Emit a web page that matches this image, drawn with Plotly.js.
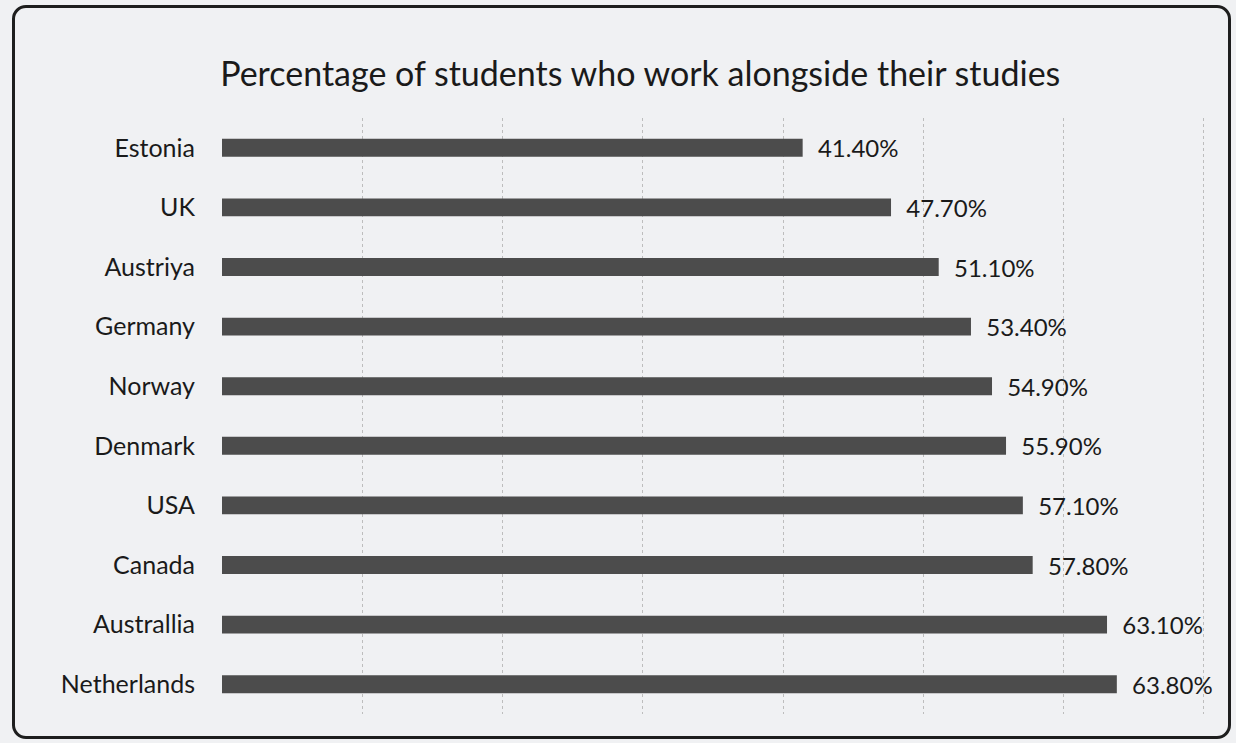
<!DOCTYPE html>
<html>
<head>
<meta charset="utf-8">
<script src="https://cdn.plot.ly/plotly-3.0.1.min.js"></script>
<style>
  html, body { margin: 0; padding: 0; background: #f0f1f3; }
  #chart { width: 1236px; height: 743px; }
  #frame { position: absolute; left: 12px; top: 5px; width: 1213px; height: 728px;
           border: 3px solid #1e1e1e; border-radius: 14px; pointer-events: none; }
</style>
</head>
<body>
<div id="chart"></div>
<div id="frame"></div>
<script>
const countries = ["Estonia", "UK", "Austriya", "Germany", "Norway", "Denmark", "USA", "Canada", "Australlia", "Netherlands"];
const percentages = [41.4, 47.7, 51.1, 53.4, 54.9, 55.9, 57.1, 57.8, 63.1, 63.8];

const FONT = "Lato, 'Open Sans', sans-serif";

const trace = {
  type: "bar",
  orientation: "h",
  y: countries,
  x: percentages,
  marker: { color: "#4c4c4c" },
  text: percentages.map(v => "\u00a0\u00a0" + v.toFixed(2) + "%"),
  textposition: "outside",
  constraintext: "none",
  cliponaxis: false,
  textfont: { family: FONT, size: 24, color: "#1a1a1a" },
  hoverinfo: "none"
};

const layout = {
  width: 1236, height: 743,
  paper_bgcolor: "#f0f1f3",
  plot_bgcolor: "#f0f1f3",
  margin: { l: 222, r: 28, t: 118, b: 29 },
  title: {
    text: "Percentage of students who work alongside their studies",
    font: { family: FONT, size: 34, color: "#1a1a1a" },
    x: 0.518, xanchor: "center", y: 0.9, yanchor: "middle"
  },
  bargap: 0.7,
  showlegend: false,
  xaxis: {
    range: [0, 70.3],
    tickvals: [10, 20, 30, 40, 50, 60, 70],
    showticklabels: false,
    showgrid: true,
    gridcolor: "#bdbdbd",
    griddash: "dot",
    gridwidth: 1,
    zeroline: false,
    showline: false,
    ticks: ""
  },
  yaxis: {
    autorange: "reversed",
    showgrid: false,
    showline: false,
    ticks: "",
    ticklabelstandoff: 26,
    tickfont: { family: FONT, size: 25, color: "#1a1a1a" }
  }
};

Plotly.newPlot("chart", [trace], layout, { displayModeBar: false, staticPlot: true });
</script>
</body>
</html>
